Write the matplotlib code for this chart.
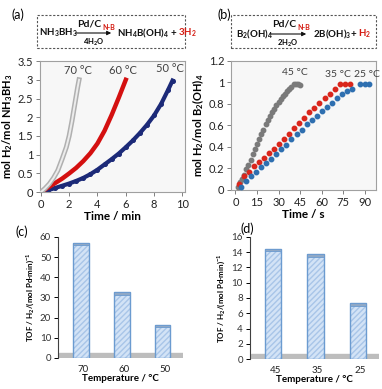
import matplotlib.pyplot as plt
import matplotlib.patches as mpatches

plt.rcParams['font.family'] = ['Lato', 'DejaVu Sans']
plt.rcParams['mathtext.fontset'] = 'custom'
plt.rcParams['mathtext.rm'] = 'Lato:bold'
plt.rcParams['mathtext.it'] = 'Lato:bold'
plt.rcParams['mathtext.bf'] = 'Lato:bold'
plt.rcParams['mathtext.default'] = 'rm'

# (a) NH3BH3 hydrolysis, time in min
t70 = [0, 0.3, 0.6, 0.9, 1.2, 1.5, 1.8, 2.0, 2.2, 2.4, 2.6, 2.7]
y70 = [0, 0.1, 0.22, 0.38, 0.58, 0.88, 1.2, 1.5, 1.9, 2.35, 2.8, 3.0]
t60 = [0, 0.5, 1, 1.5, 2, 2.5, 3, 3.5, 4, 4.5, 5, 5.5, 6]
y60 = [0, 0.12, 0.24, 0.36, 0.5, 0.65, 0.83, 1.04, 1.3, 1.64, 2.06, 2.52, 3.0]
t50 = [0, 0.5, 1, 1.5, 2, 2.5, 3, 3.5, 4, 4.5, 5, 5.5, 6, 6.5, 7, 7.5, 8, 8.5, 9, 9.3]
y50 = [0, 0.05, 0.11, 0.17, 0.23, 0.3, 0.38, 0.48, 0.6, 0.74, 0.88, 1.03, 1.2,
       1.38, 1.58, 1.8, 2.05, 2.36, 2.74, 2.98]

# (b) B2(OH)4 hydrolysis, time in s
t45 = [1.5, 3, 4.5, 6, 7.5, 9, 10.5, 12, 13.5, 15, 16.5, 18, 19.5, 21, 22.5, 24, 25.5,
       27, 28.5, 30, 31.5, 33, 34.5, 36, 37.5, 39, 40.5, 42, 43.5, 45]
y45 = [0.03, 0.07, 0.10, 0.14, 0.19, 0.23, 0.28, 0.33, 0.38, 0.43, 0.47, 0.52, 0.56,
       0.61, 0.65, 0.69, 0.72, 0.75, 0.79, 0.82, 0.84, 0.87, 0.89, 0.92, 0.94, 0.96,
       0.98, 0.98, 0.98, 0.97]
t35 = [2.5, 6, 9.5, 13, 16.5, 20, 23.5, 27, 30.5, 34, 37.5, 41, 44.5, 48, 51.5, 55,
       58.5, 62, 65.5, 69, 72.5, 76, 79.5]
y35 = [0.05, 0.13, 0.17, 0.22, 0.26, 0.30, 0.34, 0.38, 0.43, 0.47, 0.52, 0.57, 0.62,
       0.67, 0.72, 0.76, 0.81, 0.85, 0.89, 0.94, 0.98, 0.98, 0.98]
t25 = [4, 7.5, 11, 14.5, 18, 21.5, 25, 28.5, 32, 35.5, 39, 42.5, 46, 49.5, 53, 56.5,
       60, 63.5, 67, 70.5, 74, 77.5, 81, 87, 90, 93]
y25 = [0.03, 0.08, 0.13, 0.17, 0.21, 0.25, 0.29, 0.33, 0.38, 0.42, 0.47, 0.52, 0.56,
       0.61, 0.65, 0.69, 0.73, 0.77, 0.81, 0.85, 0.89, 0.92, 0.94, 0.98, 0.98, 0.98]

# (c), (d) TOF bars
temps_c = ['70', '60', '50']
tof_c = [57, 32.5, 16.5]
temps_d = ['45', '35', '25']
tof_d = [14.4, 13.7, 7.3]

W, H = 382, 389
fig = plt.figure(figsize=(W / 100, H / 100), dpi=100)
renderer = fig.canvas.get_renderer()


def fp(x, y):
    return x / W, 1 - y / H


def style_line_axes(ax):
    ax.set_facecolor('#f7f7f7')
    for s in ax.spines.values():
        s.set_color('#a0a0a0')
        s.set_linewidth(0.8)
    ax.tick_params(direction='out', length=3, width=0.7, color='#808080',
                   labelsize=8, pad=2, labelcolor='#222222')


# ---- (a)
ax = fig.add_axes([0.105, 0.506, 0.380, 0.337])
style_line_axes(ax)
ax.plot(t50, y50, '-', color='#1c2a78', lw=3, marker='o', ms=2.6, zorder=2)
ax.plot(t60, y60, '-', color='#d41010', lw=3.2, zorder=3)
ax.plot(t70, y70, '-', color='#b0b0b0', lw=3.6, zorder=4)
ax.plot(t70, y70, '-', color='#ececec', lw=1.4, zorder=5)
ax.set_xlim(-0.05, 10.2)
ax.set_ylim(0, 3.5)
ax.set_xticks(range(0, 11, 2))
ax.set_yticks([0, 0.5, 1, 1.5, 2, 2.5, 3, 3.5])
ax.set_yticklabels(['0', '0.5', '1', '1.5', '2', '2.5', '3', '3.5'])
ax.set_xlabel('Time / min', fontsize=8.5, fontweight='bold', labelpad=1)
ax.set_ylabel('mol H$_2$/mol NH$_3$BH$_3$', fontsize=8, fontweight='bold', labelpad=2)
for lab, x, y in [('70 °C', 2.6, 3.26), ('60 °C', 5.8, 3.26), ('50 °C', 9.1, 3.29)]:
    ax.text(x, y, lab, fontsize=8, color='#404040', ha='center', va='center')

# ---- (b)
bx = fig.add_axes([0.605, 0.512, 0.380, 0.332])
style_line_axes(bx)
bx.plot(t45, y45, 'o', color='#7a7a7a', ms=3.2, zorder=3)
bx.plot(t35, y35, 'o', color='#d9261c', ms=3.2, zorder=3)
bx.plot(t25, y25, 'o', color='#2e6fb0', ms=3.2, zorder=3)
bx.set_xlim(-3, 98)
bx.set_ylim(0, 1.2)
bx.set_xticks(range(0, 91, 15))
bx.set_yticks([0, 0.2, 0.4, 0.6, 0.8, 1, 1.2])
bx.set_yticklabels(['0', '0.2', '0.4', '0.6', '0.8', '1', '1.2'])
bx.set_xlabel('Time / s', fontsize=8.5, fontweight='bold', labelpad=1)
bx.set_ylabel('mol H$_2$/mol B$_2$(OH)$_4$', fontsize=8, fontweight='bold', labelpad=2)
for lab, x, y in [('45 °C', 41.7, 1.09), ('35 °C', 71.5, 1.07), ('25 °C', 91.5, 1.07)]:
    bx.text(x, y, lab, fontsize=7.5, color='#404040', ha='center', va='center')


# ---- bars
def bar_panel(rect, cats, vals, ymax, step, floor_h, cap_h):
    a = fig.add_axes(rect)
    x = list(range(len(cats)))
    a.axhspan(0, floor_h, xmin=0.01, xmax=1, color='#bdbdbd', zorder=1)
    a.bar(x, vals, width=0.39, color='#d3e3f6', edgecolor='#a8c5e8', lw=0,
          hatch='//////', zorder=2)
    a.bar(x, vals, width=0.39, fill=False, edgecolor='#6b9bd0', lw=1.0, zorder=3)
    a.bar(x, cap_h, bottom=[v - cap_h for v in vals], width=0.39, color='#8fa8c6',
          edgecolor='#6b9bd0', lw=0.6, zorder=4)
    a.set_xlim(-0.55, 2.5)
    a.set_ylim(0, ymax)
    a.set_yticks(range(0, ymax + 1, step))
    a.set_xticks([xx + 0.05 for xx in x])
    a.set_xticklabels(cats)
    for s in ['top', 'right', 'bottom']:
        a.spines[s].set_visible(False)
    a.spines['left'].set_color('#404040')
    a.spines['left'].set_linewidth(0.8)
    a.tick_params(axis='y', direction='out', length=3, width=0.7, labelsize=7,
                  pad=2, labelcolor='#333333')
    a.tick_params(axis='x', length=0, labelsize=7, pad=5, labelcolor='#222222')
    a.set_xlabel('Temperature / °C', fontsize=7, fontweight='bold', labelpad=0)
    a.set_ylabel('TOF / H$_2$/(mol Pd·min)$^{-1}$', fontsize=5.8, fontweight='bold',
                 labelpad=3)
    return a


bar_panel([0.152, 0.080, 0.327, 0.311], temps_c, tof_c, 60, 10, 2.5, 1.2)
bar_panel([0.654, 0.077, 0.338, 0.314], temps_d, tof_d, 16, 2, 0.6, 0.3)

# ---- panel letters
for lab, x, y in [('(a)', 18, 15), ('(b)', 224, 15), ('(c)', 22, 232), ('(d)', 247, 229)]:
    fig.text(*fp(x, y), lab, fontsize=9, ha='center', va='center')

# ---- reaction schemes
for x0, x1 in [(37, 185), (231, 376)]:
    fx0, fy0 = fp(x0, 48)
    fx1, fy1 = fp(x1, 15)
    fig.add_artist(mpatches.Rectangle((fx0, fy0), fx1 - fx0, fy1 - fy0,
                                      transform=fig.transFigure, fill=False,
                                      ec='#555555', lw=0.8, ls=(0, (2, 1.5))))


def arrow(xa, xb, y):
    fig.add_artist(mpatches.FancyArrowPatch(fp(xa, y), fp(xb, y),
                                            transform=fig.transFigure,
                                            arrowstyle='-|>', mutation_scale=6,
                                            lw=0.8, color='#111111'))


def chain(x, y, parts):
    # write pieces of text one after another from pixel x
    for txt, size, color, dy in parts:
        t = fig.text(*fp(x, y + dy), txt, fontsize=size, fontweight='bold',
                     color=color, va='center', ha='left')
        x = t.get_window_extent(renderer).x1 + 1


red = '#d41a10'
blk = '#111111'
chain(39, 33, [('NH$_3$BH$_3$', 7, blk, 0)])
arrow(73, 114, 33)
chain(77, 24, [('Pd/C', 7.5, blk, 0), ('N-B', 5, red, 3)])
fig.text(*fp(94, 42), '4H$_2$O', fontsize=5.5, fontweight='bold', va='center', ha='center')
chain(117, 33, [('NH$_4$B(OH)$_4$ +', 7, blk, 0), ('3H$_2$', 7, red, 0)])

chain(236, 34, [('B$_2$(OH)$_4$', 7, blk, 0)])
arrow(268, 309, 34)
chain(272, 24, [('Pd/C', 7.5, blk, 0), ('N-B', 5, red, 3)])
fig.text(*fp(288, 43), '2H$_2$O', fontsize=5.5, fontweight='bold', va='center', ha='center')
chain(313, 34, [('2B(OH)$_3$+', 7, blk, 0), ('H$_2$', 7, red, 0)])

fig.savefig('out.png', dpi=100)
